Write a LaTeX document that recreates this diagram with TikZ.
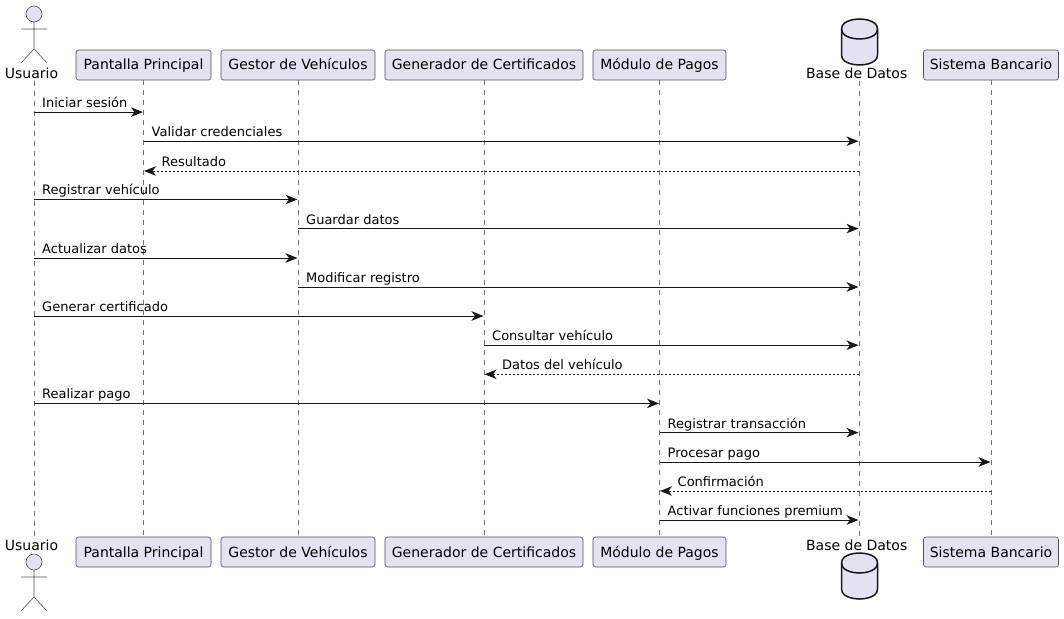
\documentclass[tikz,border=0pt]{standalone}
\usepackage{fontspec}
\setmainfont{DejaVu Sans}
\usetikzlibrary{arrows.meta}
\definecolor{partfill}{HTML}{E2E2F0}
\definecolor{partline}{HTML}{181818}
\definecolor{softline}{HTML}{505050}
\definecolor{lifecol}{HTML}{707070}
\tikzset{
  partbox/.style={draw=softline,fill=partfill,line width=0.6pt,rounded corners=2.5pt,minimum height=30pt,inner sep=0pt,text height=12pt,text depth=2pt,font=\fontsize{14}{16}\selectfont,text=black},
  plainlabel/.style={inner sep=0pt,text height=12pt,text depth=2pt,font=\fontsize{14}{16}\selectfont,text=black},
  lifeline/.style={draw=lifecol,line width=0.6pt,dash pattern=on 5pt off 5pt},
  msgline/.style={draw=partline,line width=1pt,-{Stealth[length=12pt,width=9.5pt,inset=3.5pt]}},
  retline/.style={msgline,dash pattern=on 2pt off 2pt},
  msglabel/.style={inner sep=0pt,anchor=base west,font=\fontsize{13}{15}\selectfont,text=black},
  actorline/.style={draw=softline,line width=0.6pt},
  actorhead/.style={circle,draw=softline,fill=partfill,line width=0.6pt,minimum size=16pt,inner sep=0pt},
  dbshape/.style={draw=partline,fill=partfill,line width=1.5pt}
}
\newcommand{\actorfig}[2]{% x, head centre y
  \node[actorhead] at (#1,#2) {};
  \draw[actorline] (#1,#2+8) -- (#1,#2+35) (#1-13,#2+15) -- (#1+13,#2+15)
    (#1-13,#2+49) -- (#1,#2+35) -- (#1+13,#2+49);
}
\newcommand{\dbfig}[2]{% centre x, top y
  \path[dbshape] (#1-18,#2+10) .. controls (#1-18,#2) and (#1,#2) .. (#1,#2)
    .. controls (#1,#2) and (#1+18,#2) .. (#1+18,#2+10) -- (#1+18,#2+36)
    .. controls (#1+18,#2+46) and (#1,#2+46) .. (#1,#2+46)
    .. controls (#1,#2+46) and (#1-18,#2+46) .. (#1-18,#2+36) -- cycle;
  \path[dbshape,fill=none] (#1-18,#2+10) .. controls (#1-18,#2+20) and (#1,#2+20) .. (#1,#2+20)
    .. controls (#1,#2+20) and (#1+18,#2+20) .. (#1+18,#2+10);
}
% name, from, to, y, label
\newcommand{\msg}[5]{%
  \coordinate (#1s) at (#2 |- 0,#4);
  \coordinate (#1e) at ([xshift=-0.5pt]#3 |- 0,#4);
  \draw[msgline] (#1s) -- (#1e);
  \node[msglabel] (#1l) at ([xshift=8pt,yshift=4.6pt]#1s) {#5};
}
\newcommand{\ret}[5]{%
  \coordinate (#1s) at (#2 |- 0,#4);
  \coordinate (#1e) at ([xshift=0.5pt]#3 |- 0,#4);
  \draw[retline] (#1s) -- (#1e);
  \node[msglabel] (#1l) at ([xshift=17.5pt,yshift=4.6pt]#1e) {#5};
}
\begin{document}
\begin{tikzpicture}[x=1pt,y=-1pt]
\useasboundingbox (0,0) rectangle (1064,618);
\fill[white] (0,0) rectangle (1064,618);

% participants, top
\coordinate (utl) at (34,81);
\coordinate (btl) at (859,81);
\node[partbox,minimum width=135pt] (pt) at (143.5,65) {Pantalla Principal};
\node[partbox,minimum width=154pt] (gt) at (298,65) {Gestor de Vehículos};
\node[partbox,minimum width=198pt] (ct) at (484,65) {Generador de Certificados};
\node[partbox,minimum width=133pt] (mt) at (659.5,65) {Módulo de Pagos};
\node[partbox,minimum width=135pt] (st) at (991,65) {Sistema Bancario};

% participants, bottom
\coordinate (ubl) at (34,537);
\coordinate (bbl) at (859,537);
\node[partbox,minimum width=135pt] (pb) at (143.5,552) {Pantalla Principal};
\node[partbox,minimum width=154pt] (gb) at (298,552) {Gestor de Vehículos};
\node[partbox,minimum width=198pt] (cb) at (484,552) {Generador de Certificados};
\node[partbox,minimum width=133pt] (mb) at (659.5,552) {Módulo de Pagos};
\node[partbox,minimum width=135pt] (sb) at (991,552) {Sistema Bancario};

% lifelines
\draw[lifeline] (utl) -- (ubl);
\draw[lifeline] (pt.south) -- (pb.north);
\draw[lifeline] (gt.south) -- (gb.north);
\draw[lifeline] (ct.south) -- (cb.north);
\draw[lifeline] (mt.south) -- (mb.north);
\draw[lifeline] (btl) -- (bbl);
\draw[lifeline] (st.south) -- (sb.north);

% actors and databases
\actorfig{34}{14}
\actorfig{34}{562}
\dbfig{859.5}{19}
\dbfig{859.5}{553}
\node[plainlabel] (ut) at (31.5,73) {Usuario};
\node[plainlabel] (bt) at (856.7,73) {Base de Datos};
\node[plainlabel] (ub) at (31.5,545) {Usuario};
\node[plainlabel] (bb) at (856.7,545) {Base de Datos};

% messages
\msg{a}{utl}{pt.south}{112.1}{Iniciar sesión}
\msg{b}{pt.south}{btl}{141.2}{Validar credenciales}
\ret{c}{btl}{pt.south}{171}{Resultado}
\msg{d}{utl}{gt.south}{199.5}{Registrar vehículo}
\msg{e}{gt.south}{btl}{228.6}{Guardar datos}
\msg{f}{utl}{gt.south}{258}{Actualizar datos}
\msg{g}{gt.south}{btl}{287}{Modificar registro}
\msg{h}{utl}{ct.south}{316}{Generar certificado}
\msg{i}{ct.south}{btl}{345.2}{Consultar vehículo}
\ret{j}{btl}{ct.south}{374.3}{Datos del vehículo}
\msg{k}{utl}{mt.south}{403.4}{Realizar pago}
\msg{l}{mt.south}{btl}{432.6}{Registrar transacción}
\msg{m}{mt.south}{st.south}{462}{Procesar pago}
\ret{n}{st.south}{mt.south}{491}{Confirmación}
\msg{o}{mt.south}{btl}{520}{Activar funciones premium}
\end{tikzpicture}
\end{document}
